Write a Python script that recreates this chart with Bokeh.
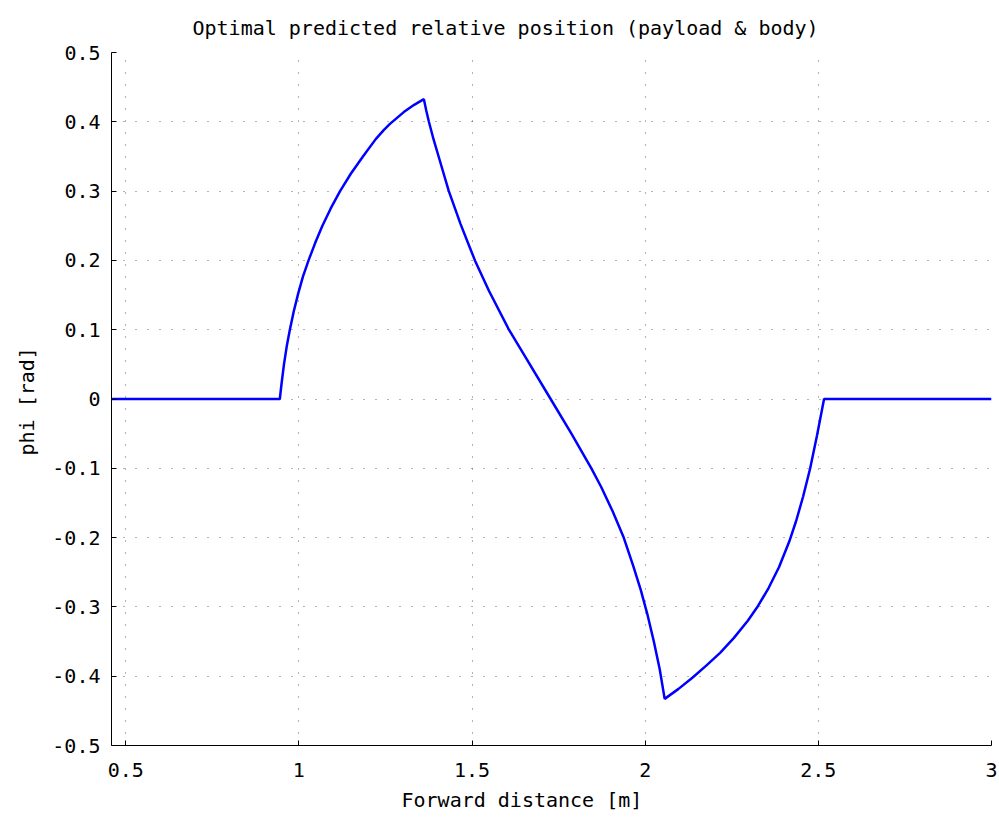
from bokeh.plotting import figure
from bokeh.models import Range1d, FixedTicker, Title
from bokeh.embed import file_html
from bokeh.resources import INLINE

# Data
x_vals = [0.459, 0.945, 0.950, 0.957, 0.965, 0.974, 0.985, 0.998, 1.012, 1.028,
          1.047, 1.068, 1.092, 1.119, 1.150, 1.185, 1.222, 1.245, 1.263, 1.303, 1.333,
          1.361,
          1.368, 1.3755, 1.389, 1.4044, 1.433, 1.467, 1.4936, 1.5084, 1.5488, 1.6066,
          1.6548, 1.727, 1.787, 1.8446, 1.873, 1.906, 1.938, 1.965,
          1.987, 2.006, 2.025, 2.042, 2.0563,
          2.0963, 2.1363, 2.1763, 2.2163, 2.2563, 2.2963, 2.3263, 2.3563, 2.3863,
          2.4163, 2.4363, 2.4563, 2.4763, 2.4963, 2.5165, 3.0]
y_vals = [0.0, 0.0, 0.022, 0.050, 0.076, 0.100, 0.126, 0.152, 0.177, 0.200,
          0.225, 0.250, 0.275, 0.300, 0.325, 0.350, 0.375, 0.388, 0.397, 0.414, 0.4245,
          0.4327,
          0.416, 0.400, 0.3745, 0.3485, 0.300, 0.2524, 0.2187, 0.200, 0.1562, 0.100,
          0.060, 0.000, -0.050, -0.100, -0.127, -0.162, -0.200, -0.240,
          -0.275, -0.310, -0.350, -0.390, -0.4327,
          -0.4183, -0.4023, -0.3847, -0.3663, -0.3447, -0.3199, -0.2983, -0.2728, -0.2428,
          -0.2053, -0.1753, -0.1403, -0.1003, -0.0523, 0.0, 0.0]

x_ticks = [0.5, 1.0, 1.5, 2.0, 2.5, 3.0]
x_tick_labels = ["0.5", "1", "1.5", "2", "2.5", "3"]
y_ticks = [-0.5, -0.4, -0.3, -0.2, -0.1, 0.0, 0.1, 0.2, 0.3, 0.4, 0.5]
y_tick_labels = ["-0.5", "-0.4", "-0.3", "-0.2", "-0.1", "0", "0.1", "0.2", "0.3", "0.4", "0.5"]

title_text = "Optimal predicted relative position (payload & body)"
x_label = "Forward distance [m]"
y_label = "phi [rad]"

FONT = "DejaVu Sans Mono"

p = figure(frame_width=880, frame_height=693,
           x_range=Range1d(0.459, 3.0), y_range=Range1d(-0.5, 0.5),
           output_backend="svg", toolbar_location=None,
           min_border_left=111, min_border_top=52, min_border_right=6,
           min_border_bottom=78)
p.outline_line_color = None
p.background_fill_color = "white"
p.border_fill_color = "white"

p.add_layout(Title(text=title_text, align="left", offset=81, standoff=26,
                   text_font_size="20px", text_font=FONT,
                   text_font_style="normal", text_color="black"), "above")
p.add_layout(Title(text=x_label, align="left", offset=290, standoff=13,
                   text_font_size="20px", text_font=FONT,
                   text_font_style="normal", text_color="black"), "below")
p.add_layout(Title(text=y_label, align="left", offset=290, standoff=21,
                   text_font_size="20px", text_font=FONT,
                   text_font_style="normal", text_color="black"), "left")

p.xaxis.ticker = FixedTicker(ticks=x_ticks)
p.xaxis.major_label_overrides = dict(zip(x_ticks, x_tick_labels))
p.yaxis.ticker = FixedTicker(ticks=y_ticks)
p.yaxis.major_label_overrides = dict(zip(y_ticks, y_tick_labels))

for ax in (p.xaxis, p.yaxis):
    ax.axis_line_color = "black"
    ax.axis_line_width = 1
    ax.major_tick_in = 5
    ax.major_tick_out = 0
    ax.major_tick_line_color = "black"
    ax.minor_tick_line_color = None
    ax.major_label_text_font = FONT
    ax.major_label_text_font_size = "20px"
    ax.major_label_text_color = "black"
p.xaxis.major_label_standoff = 17
p.yaxis.major_label_standoff = 11

p.grid.grid_line_color = "black"
p.grid.grid_line_alpha = 0.6
p.grid.grid_line_width = 1
p.grid.grid_line_dash = "1 11"

p.line(x_vals, y_vals, line_color="#0000ff", line_width=2.5)

open("out.html", "w").write(file_html(p, INLINE))
